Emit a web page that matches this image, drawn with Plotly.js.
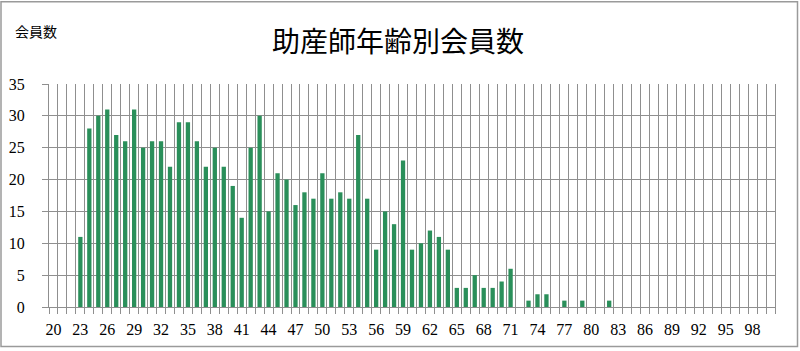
<!DOCTYPE html>
<html>
<head>
<meta charset="utf-8">
<script src="https://cdn.plot.ly/plotly-3.0.1.min.js"></script>
<style>
html,body{margin:0;padding:0;background:#fff;}
#chart{width:800px;height:351px;}
</style>
</head>
<body>
<div id="chart"></div>
<script>
const ages = [20,21,22,23,24,25,26,27,28,29,30,31,32,33,34,35,36,37,38,39,
  40,41,42,43,44,45,46,47,48,49,50,51,52,53,54,55,56,57,58,59,
  60,61,62,63,64,65,66,67,68,69,70,71,72,73,74,75,76,77,78,79,
  80,81,82,83,84,85,86,87,88,89,90,91,92,93,94,95,96,97,98,99,100];
const members = [0,0,0,11,28,30,31,27,26,31,25,26,26,22,29,29,26,22,25,22,
  19,14,25,30,15,21,20,16,18,17,21,17,18,17,27,17,9,15,13,23,
  9,10,12,11,9,3,3,5,3,3,4,6,0,1,2,2,0,1,0,1,
  0,0,1,0,0,0,0,0,0,0,0,0,0,0,0,0,0,0,0,0,0];
const xTickVals = [20,23,26,29,32,35,38,41,44,47,50,53,56,59,62,65,68,71,74,77,80,83,86,89,92,95,98];
const yTickVals = [0,5,10,15,20,25,30,35];

const chartTitle = '助産師年齢別会員数';
const yTitle = '会員数';
const xTitle = '年齢';

const gridColor = '#8f8f8f';
const serif = 'Liberation Serif';
const cjk = 'Noto Sans CJK JP';

const trace = {
  type: 'bar',
  x: ages,
  y: members,
  marker: {color: '#2a8f5a', line: {width: 0}},
  hoverinfo: 'x+y'
};

const layout = {
  width: 800, height: 351,
  margin: {l: 49, r: 25, t: 83.5, b: 44, pad: 0},
  paper_bgcolor: '#ffffff',
  plot_bgcolor: '#ffffff',
  showlegend: false,
  bargap: 0.52,
  title: {
    text: chartTitle,
    font: {family: cjk, size: 28, color: '#000'},
    x: 0.4975, xref: 'container', xanchor: 'center',
    y: 1 - 42/351, yref: 'container', yanchor: 'middle'
  },
  xaxis: {
    type: 'linear',
    range: [19.5, 100.5],
    tickmode: 'array',
    tickvals: xTickVals,
    ticks: '',
    showgrid: false,
    zeroline: false,
    showline: true, linecolor: gridColor, linewidth: 1,
    tickfont: {family: serif, size: 16, color: '#000'},
    ticklabelstandoff: 8,
    minor: {
      tick0: 19.5, dtick: 1,
      ticks: 'outside', ticklen: 6, tickcolor: gridColor, tickwidth: 1,
      showgrid: true, gridcolor: gridColor, gridwidth: 1
    },
    fixedrange: true
  },
  yaxis: {
    range: [0, 35],
    tickmode: 'array',
    tickvals: yTickVals,
    ticks: 'outside', ticklen: 6, tickcolor: gridColor, tickwidth: 1,
    showgrid: true, gridcolor: gridColor, gridwidth: 1,
    zeroline: false,
    showline: true, linecolor: gridColor, linewidth: 1, mirror: true,
    tickfont: {family: serif, size: 16, color: '#000'},
    ticklabelstandoff: 14,
    fixedrange: true
  },
  annotations: [
    {text: yTitle, xref: 'paper', yref: 'paper',
     x: (13 - 49) / 726, y: (307 - 30) / 223.5, xanchor: 'left', yanchor: 'middle',
     showarrow: false, font: {family: cjk, size: 14, color: '#000'}},
    {text: xTitle, xref: 'paper', yref: 'paper',
     x: (14 - 49) / 726, y: (307 - 346) / 223.5, xanchor: 'left', yanchor: 'top',
     showarrow: false, font: {family: cjk, size: 13, color: '#000'}}
  ],
  shapes: [
    {type: 'rect', xref: 'paper', yref: 'paper',
     x0: (1 - 49) / 726, x1: (797.5 - 49) / 726,
     y0: (307 - 346.5) / 223.5, y1: (307 - 1) / 223.5,
     line: {color: '#9a9a9a', width: 1.5}, layer: 'below'}
  ]
};

Plotly.newPlot('chart', [trace], layout, {displayModeBar: false, staticPlot: true});
</script>
</body>
</html>
